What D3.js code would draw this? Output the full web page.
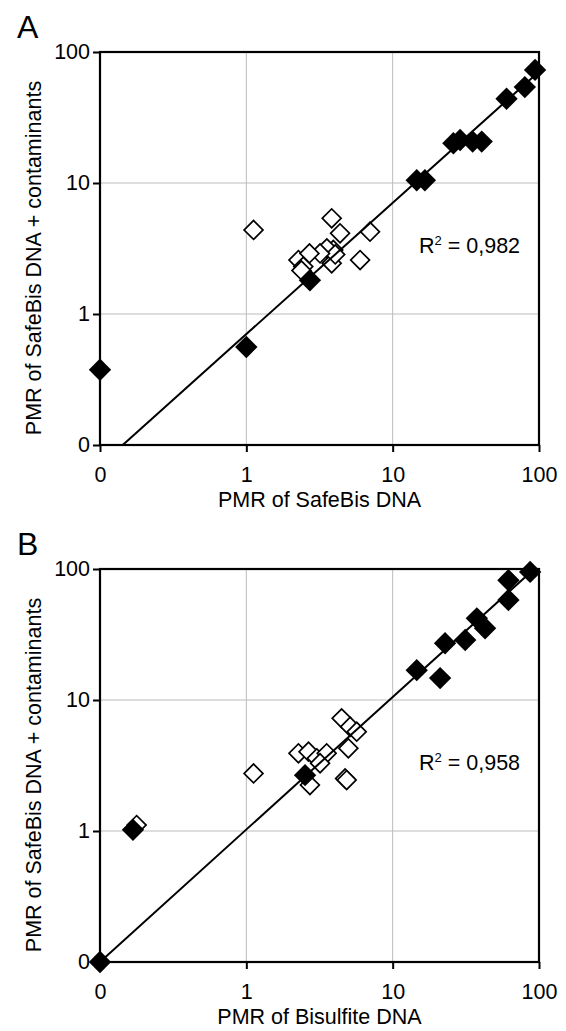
<!DOCTYPE html>
<html>
<head>
<meta charset="utf-8">
<script src="https://cdn.jsdelivr.net/npm/d3@7"></script>
<style>
  html, body { margin: 0; padding: 0; background: #fff; }
  svg { display: block; }
  text { font-family: "Liberation Sans", Arial, Helvetica, sans-serif; fill: #000; }
</style>
</head>
<body>
<div id="chart"></div>
<script>
// ---- data (values of 0 are plotted at the axis floor 0.1, which is labelled "0") ----
const tickValues = [0.1, 1, 10, 100];
const tickLabels = ["0", "1", "10", "100"];

// Panel A: PMR of SafeBis DNA (x) vs PMR of SafeBis DNA + contaminants (y)
const aFilledX = [0.1, 1.0, 2.72, 14.6, 16.6, 26, 28.9, 35.2, 40.6, 60, 80, 94];
const aFilledY = [0.375, 0.56, 1.81, 10.5, 10.5, 20.1, 21.3, 20.7, 20.7, 44, 54, 73];
const aOpenX = [1.12, 3.83, 4.37, 7.0, 5.99, 3.83, 3.93, 3.55, 4.05, 3.19, 2.27, 2.7, 2.45, 2.38];
const aOpenY = [4.38, 5.38, 4.13, 4.25, 2.58, 2.44, 3.08, 3.17, 2.85, 2.9, 2.58, 2.9, 2.3, 2.15];
const aTrendX = [0.143, 96];
const aTrendY = [0.1, 68];
const aR2 = "0,982";

// Panel B: PMR of Bisulfite DNA (x) vs PMR of SafeBis DNA + contaminants (y)
const bFilledX = [0.1, 0.168, 2.52, 14.6, 21.1, 22.8, 31.3, 37.6, 42.8, 61.8, 61.8, 87];
const bFilledY = [0.1, 1.02, 2.67, 16.9, 14.7, 27.1, 28.7, 42, 35.3, 82, 58, 95];
const bOpenX = [0.178, 1.12, 4.48, 5.12, 5.68, 4.98, 2.27, 2.66, 3.03, 3.54, 3.19, 2.72, 4.73, 4.85];
const bOpenY = [1.11, 2.75, 7.24, 6.25, 5.73, 4.28, 3.92, 4.03, 3.59, 3.92, 3.29, 2.24, 2.52, 2.45];
const bTrendX = [0.1, 88];
const bTrendY = [0.1, 95];
const bR2 = "0,958";

const yTitle = "PMR of SafeBis DNA + contaminants";

const panels = [
  { letter: "A", top: 52, xTitle: "PMR of SafeBis DNA",
    fx: aFilledX, fy: aFilledY, ox: aOpenX, oy: aOpenY, tx: aTrendX, ty: aTrendY, r2: aR2 },
  { letter: "B", top: 569, xTitle: "PMR of Bisulfite DNA",
    fx: bFilledX, fy: bFilledY, ox: bOpenX, oy: bOpenY, tx: bTrendX, ty: bTrendY, r2: bR2 }
];

const W = 566, H = 1031;
const left = 100, right = 539, plotH = 393;
const FS = 21.5;

const svg = d3.select("#chart").append("svg").attr("width", W).attr("height", H);

const openSym = d3.symbol().type(d3.symbolSquare).size(178);
const fillSym = d3.symbol().type(d3.symbolSquare).size(250);

panels.forEach(p => {
  const top = p.top, bottom = top + plotH;
  const x = d3.scaleLog().domain([0.1, 100]).range([left, right]);
  const y = d3.scaleLog().domain([0.1, 100]).range([bottom, top]);
  const g = svg.append("g");

  // gridlines
  g.append("g").selectAll("line").data(tickValues.slice(1, 3)).join("line")
    .attr("x1", d => x(d)).attr("x2", d => x(d)).attr("y1", top).attr("y2", bottom)
    .attr("stroke", "#bcbcbc").attr("stroke-width", 1);
  g.append("g").selectAll("line").data(tickValues.slice(1, 3)).join("line")
    .attr("y1", d => y(d)).attr("y2", d => y(d)).attr("x1", left).attr("x2", right)
    .attr("stroke", "#bcbcbc").attr("stroke-width", 1);

  // axes
  const xAxis = d3.axisBottom(x).tickValues(tickValues)
    .tickFormat((d, i) => tickLabels[i]).tickSize(7).tickPadding(15);
  const yAxis = d3.axisLeft(y).tickValues(tickValues)
    .tickFormat((d, i) => tickLabels[i]).tickSize(7).tickPadding(3);
  const gx = g.append("g").attr("transform", `translate(0,${bottom})`).call(xAxis);
  const gy = g.append("g").attr("transform", `translate(${left},0)`).call(yAxis);
  [gx, gy].forEach(a => {
    a.select(".domain").remove();
    a.selectAll(".tick line").attr("stroke", "#000").attr("stroke-width", 2);
    a.selectAll(".tick text").attr("font-size", FS)
      .attr("font-family", '"Liberation Sans", Arial, sans-serif').attr("fill", "#000");
  });

  // frame
  g.append("rect").attr("x", left).attr("y", top).attr("width", right - left).attr("height", plotH)
    .attr("fill", "none").attr("stroke", "#000").attr("stroke-width", 2.2);

  // open markers
  const openData = p.ox.map((v, i) => [v, p.oy[i]]);
  g.append("g").selectAll("path").data(openData).join("path")
    .attr("d", openSym)
    .attr("transform", d => `translate(${x(d[0])},${y(d[1])}) rotate(45)`)
    .attr("fill", "#fff").attr("stroke", "#000").attr("stroke-width", 1.7);

  // filled markers
  const fillData = p.fx.map((v, i) => [v, p.fy[i]]);
  g.append("g").selectAll("path").data(fillData).join("path")
    .attr("d", fillSym)
    .attr("transform", d => `translate(${x(d[0])},${y(d[1])}) rotate(45)`)
    .attr("fill", "#000");

  // trend line
  const trend = p.tx.map((v, i) => [v, p.ty[i]]);
  g.append("path").datum(trend)
    .attr("d", d3.line().x(d => x(d[0])).y(d => y(d[1])))
    .attr("fill", "none").attr("stroke", "#000").attr("stroke-width", 2);

  // R^2 annotation
  const r = g.append("text").attr("x", 419).attr("y", top + 201).attr("font-size", FS);
  r.append("tspan").text("R");
  r.append("tspan").attr("font-size", 13).attr("dy", -8).text("2");
  r.append("tspan").attr("dy", 8).text(" = " + p.r2);

  // axis titles
  g.append("text").attr("x", (left + right) / 2).attr("y", bottom + 62)
    .attr("text-anchor", "middle").attr("font-size", FS).text(p.xTitle);
  g.append("text").attr("transform", `translate(41,${top + 206}) rotate(-90)`)
    .attr("text-anchor", "middle").attr("font-size", FS).text(yTitle);

  // panel letter
  g.append("text").attr("x", 17).attr("y", top - 14).attr("font-size", 32).text(p.letter);
});
</script>
</body>
</html>
